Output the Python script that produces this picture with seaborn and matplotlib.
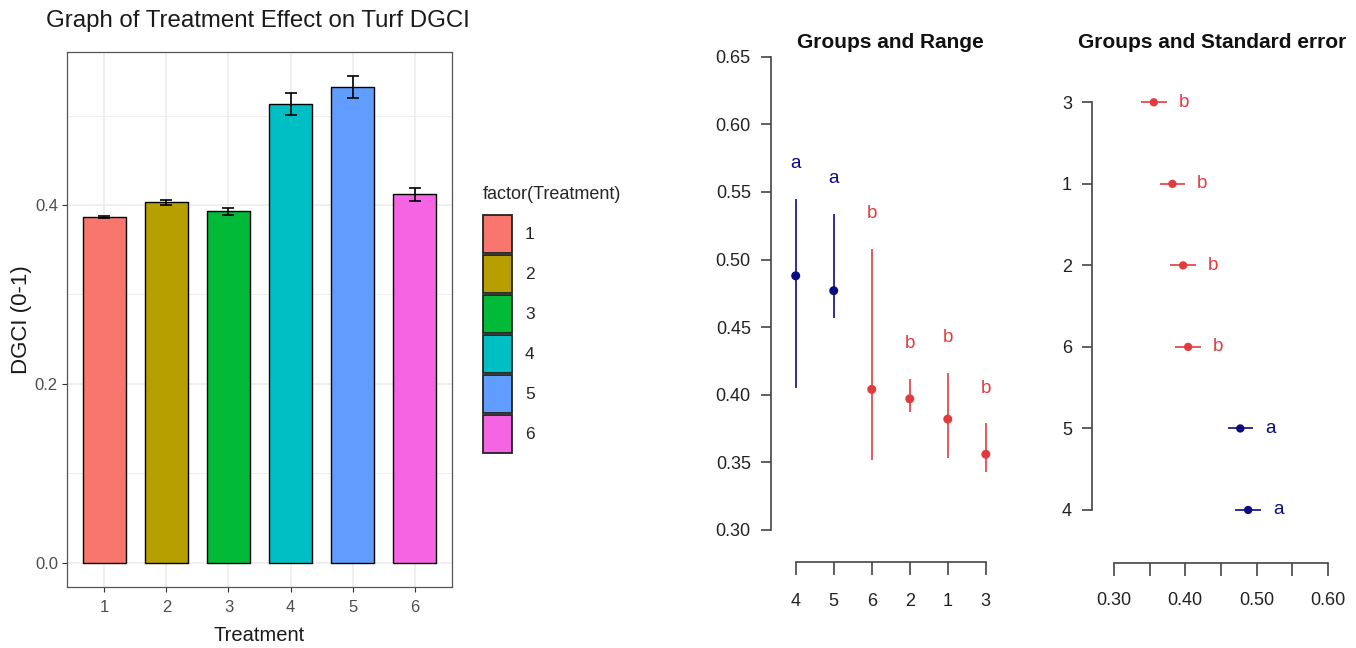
import numpy as np
import pandas as pd
import matplotlib
matplotlib.use('Agg')
import matplotlib.pyplot as plt
from matplotlib.ticker import FixedLocator
import seaborn as sns

# Bar chart: mean DGCI per treatment with standard error
treatments = ['1', '2', '3', '4', '5', '6']
dgci_mean = [0.387, 0.403, 0.393, 0.513, 0.532, 0.412]
dgci_se = [0.0012, 0.003, 0.004, 0.0125, 0.012, 0.007]
bar_colors = ['#F8766D', '#B79F00', '#00BA38', '#00BFC4', '#619CFF', '#F564E3']

# Groups (sorted by mean) with range and standard error
groups = ['4', '5', '6', '2', '1', '3']
group_mean = [0.488, 0.477, 0.404, 0.397, 0.382, 0.356]
group_min = [0.405, 0.457, 0.352, 0.387, 0.353, 0.343]
group_max = [0.545, 0.534, 0.508, 0.412, 0.416, 0.379]
group_se = [0.0178, 0.0178, 0.0178, 0.0178, 0.0178, 0.0178]
group_letter = ['a', 'a', 'b', 'b', 'b', 'b']
letter_colors = {'a': '#0B0B82', 'b': '#E23B3E'}

sns.set_theme(style='white')
plt.rcParams['font.family'] = ['Liberation Sans', 'DejaVu Sans']

W, H = 1356, 648
fig = plt.figure(figsize=(W / 100, H / 100), dpi=100)


def px_axes(left, top, right, bottom):
    return fig.add_axes([left / W, 1 - bottom / H, (right - left) / W, (bottom - top) / H])


# ---------------- left: bar chart ----------------
bars = pd.DataFrame({'Treatment': treatments, 'DGCI': dgci_mean})
ax1 = px_axes(67, 52, 452, 587)
sns.barplot(data=bars, x='Treatment', y='DGCI', hue='Treatment', palette=bar_colors,
            saturation=1, width=0.7, edgecolor='black', linewidth=1.0,
            errorbar=None, legend=True, ax=ax1)
ax1.errorbar(np.arange(len(treatments)), dgci_mean, yerr=dgci_se, fmt='none',
             ecolor='black', elinewidth=1.2, capsize=4.5, capthick=1.2, zorder=5)
ax1.set_xlim(-0.6, 5.6)
ax1.set_ylim(-0.0272, 0.5712)
ax1.set_yticks([0.0, 0.2, 0.4])
ax1.set_yticklabels(['0.0', '0.2', '0.4'])
ax1.yaxis.set_minor_locator(FixedLocator([0.1, 0.3, 0.5]))
ax1.set_axisbelow(True)
ax1.grid(True, which='major', color='#EBEBEB', lw=1.1)
ax1.grid(True, which='minor', axis='y', color='#EBEBEB', lw=0.6)
ax1.tick_params(which='major', direction='out', length=3.5, width=0.8, color='#333333',
                labelsize=12, labelcolor='#4D4D4D', bottom=True, left=True)
ax1.tick_params(axis='x', pad=6)
ax1.tick_params(axis='y', pad=3)
ax1.tick_params(which='minor', length=0)
for s in ax1.spines.values():
    s.set_color('#555555')
    s.set_linewidth(0.9)
ax1.set_xlabel('Treatment', fontsize=14.5, color='#1A1A1A')
ax1.set_ylabel('DGCI (0-1)', fontsize=16, color='#1A1A1A')
ax1.xaxis.set_label_coords(0.5, -0.072)
ax1.yaxis.set_label_coords(-0.092, 0.5)
fig.text(46 / W, 1 - 21 / H, 'Graph of Treatment Effect on Turf DGCI', fontsize=17.3,
         color='#1A1A1A', ha='left', va='center')

sns.move_legend(ax1, 'upper left', bbox_to_anchor=(483 / W, 1 - 186 / H),
                bbox_transform=fig.transFigure, title='factor(Treatment)', frameon=False,
                fontsize=12.5, title_fontsize=13, borderpad=0, borderaxespad=0,
                handlelength=1.67, handleheight=2.95, labelspacing=0.14,
                handletextpad=0.75, alignment='left')
leg = ax1.get_legend()
leg._legend_box.sep = 9
for p in leg.get_patches():
    p.set_edgecolor('#222222')
    p.set_linewidth(1.3)

# ---------------- middle: groups and range ----------------
pos = np.arange(len(groups))
cols = [letter_colors[g] for g in group_letter]
ax2 = px_axes(771, 56.8, 1009, 562)
ax2.vlines(pos, group_min, group_max, colors=cols, lw=1.4, alpha=0.85)
sns.scatterplot(x=pos, y=group_mean, hue=group_letter, palette=letter_colors,
                s=42, edgecolor='none', legend=False, ax=ax2, zorder=3)
for x, top, lab, c in zip(pos, group_max, group_letter, cols):
    ax2.text(x, top + 0.026, lab, color=c, fontsize=13.5, ha='center', va='center')
ax2.set_xlim(-0.65, 5.61)
ax2.set_ylim(0.2763, 0.65)
ax2.set_xticks(pos)
ax2.set_xticklabels(groups)
ax2.set_yticks(np.round(np.arange(0.30, 0.651, 0.05), 2))
ax2.set_yticklabels([f'{v:.2f}' for v in np.arange(0.30, 0.651, 0.05)])
ax2.spines[['top', 'right']].set_visible(False)
ax2.spines['left'].set_bounds(0.30, 0.65)
ax2.spines['bottom'].set_bounds(0, 5)
for s in ('left', 'bottom'):
    ax2.spines[s].set_color('#444444')
    ax2.spines[s].set_linewidth(1.2)
ax2.tick_params(axis='y', direction='out', length=7.5, width=1.2, color='#444444',
                labelsize=13, labelcolor='#222222', pad=7, left=True)
ax2.tick_params(axis='x', direction='out', length=9, width=1.2, color='#444444',
                labelsize=13, labelcolor='#222222', pad=13, bottom=True)
ax2.set_xlabel('')
ax2.set_ylabel('')
fig.text(890.5 / W, 1 - 42 / H, 'Groups and Range', fontsize=15, fontweight='bold',
         color='#111111', ha='center', va='center')

# ---------------- right: groups and standard error ----------------
ax3 = px_axes(1092, 49.3, 1333, 563)
lo = [m - e for m, e in zip(group_mean, group_se)]
hi = [m + e for m, e in zip(group_mean, group_se)]
ax3.hlines(pos, lo, hi, colors=cols, lw=1.4, alpha=0.85)
sns.scatterplot(x=group_mean, y=pos, hue=group_letter, palette=letter_colors,
                s=36, edgecolor='none', legend=False, ax=ax3, zorder=3)
for y, m, lab, c in zip(pos, group_mean, group_letter, cols):
    ax3.text(m + 0.042, y, lab, color=c, fontsize=13.5, ha='center', va='center')
ax3.set_xlim(0.2695, 0.6067)
ax3.set_ylim(-0.65, 5.65)
ax3.set_yticks(pos)
ax3.set_yticklabels(groups)
xt = np.round(np.arange(0.30, 0.601, 0.05), 2)
ax3.set_xticks(xt)
ax3.set_xticklabels([f'{v:.2f}' if i % 2 == 0 else '' for i, v in enumerate(xt)])
ax3.spines[['top', 'right']].set_visible(False)
ax3.spines['left'].set_bounds(0, 5)
ax3.spines['bottom'].set_bounds(0.30, 0.60)
for s in ('left', 'bottom'):
    ax3.spines[s].set_color('#444444')
    ax3.spines[s].set_linewidth(1.2)
ax3.tick_params(axis='y', direction='out', length=7.5, width=1.2, color='#444444',
                labelsize=13, labelcolor='#222222', pad=7, left=True)
ax3.tick_params(axis='x', direction='out', length=9, width=1.2, color='#444444',
                labelsize=13, labelcolor='#222222', pad=12, bottom=True)
ax3.set_xlabel('')
ax3.set_ylabel('')
fig.text(1212 / W, 1 - 42 / H, 'Groups and Standard error', fontsize=15, fontweight='bold',
         color='#111111', ha='center', va='center')

fig.savefig('out.png', dpi=100)
